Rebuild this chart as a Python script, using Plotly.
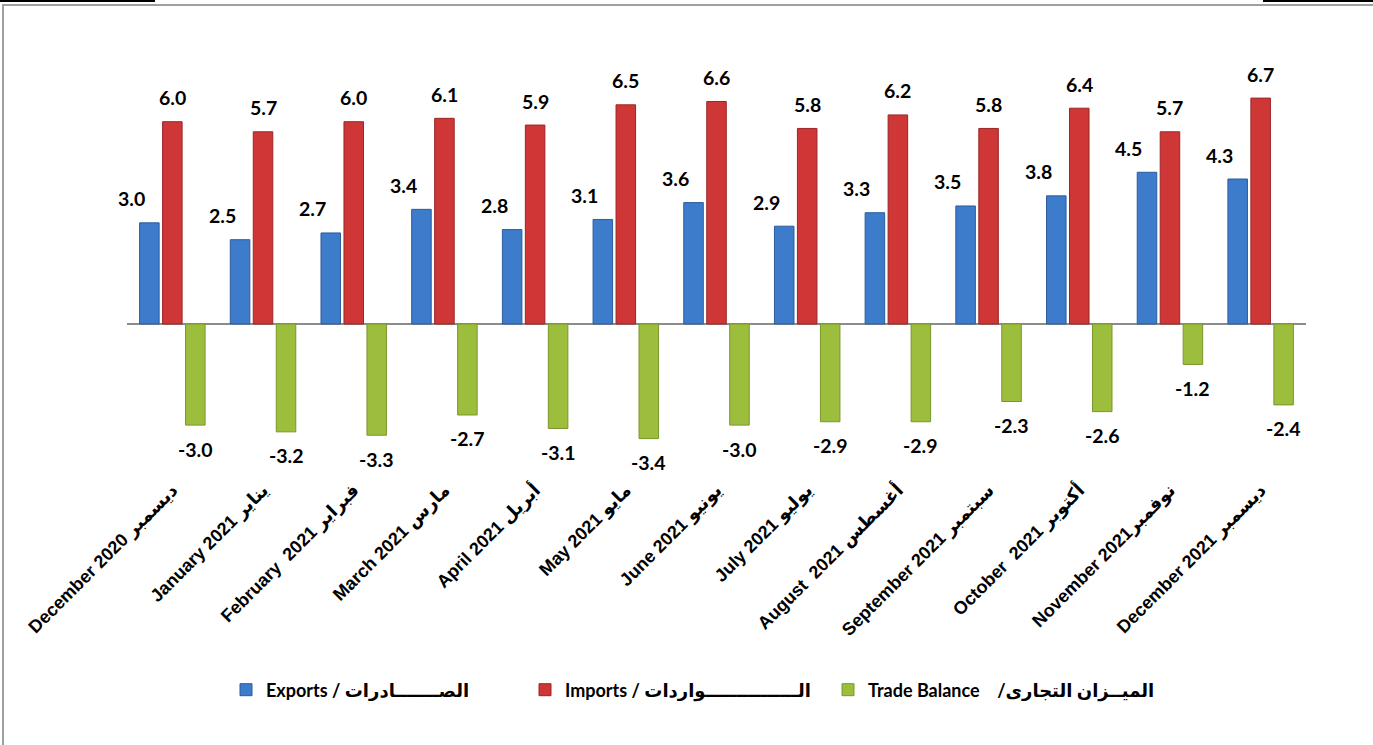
import plotly.graph_objects as go

categories = [
    "December 2020 ديسمبر",
    "January 2021 يناير",
    "February\u00a0\u00a02021 فبراير",
    "March 2021 مارس",
    "April 2021 أبريل",
    "May 2021 مايو",
    "June 2021 يونيو",
    "July 2021 يوليو",
    "August\u00a0\u00a02021 أغسطس",
    "September 2021 سبتمبر",
    "October\u00a0\u00a02021 أكتوبر",
    "November 2021نوفمبر",
    "December 2021 ديسمبر",
]
exports = [3.0, 2.5, 2.7, 3.4, 2.8, 3.1, 3.6, 2.9, 3.3, 3.5, 3.8, 4.5, 4.3]
imports = [6.0, 5.7, 6.0, 6.1, 5.9, 6.5, 6.6, 5.8, 6.2, 5.8, 6.4, 5.7, 6.7]
balance = [-3.0, -3.2, -3.3, -2.7, -3.1, -3.4, -3.0, -2.9, -2.9, -2.3, -2.6, -1.2, -2.4]

series_names = [
    "Exports / الصـــــــادرات",
    "Imports / الـــــــــــــــواردات",
    "Trade Balance" + "\u00a0" * 4 + "/الميــزان التجارى",
]

W, H = 1373, 745
ML, MR, MT, MB = 127, 67, 30, 270
PW = W - ML - MR
PH = H - MT - MB


def px_x(p):
    return (p - ML) / PW


def px_y(p):
    return (H - MB - p) / PH


fig = go.Figure()
fig.add_trace(go.Bar(x=categories, y=exports, name=series_names[0], legend="legend",
                     marker=dict(color="#3D7BCB", line=dict(color="#2B5C9C", width=1))))
fig.add_trace(go.Bar(x=categories, y=imports, name=series_names[1], legend="legend2",
                     marker=dict(color="#CF3636", line=dict(color="#9C2525", width=1))))
fig.add_trace(go.Bar(x=categories, y=balance, name=series_names[2], legend="legend3",
                     marker=dict(color="#9CBE3C", line=dict(color="#7A962C", width=1))))

label_font = dict(family="Lato, DejaVu Sans", size=19.5, color="#000000", weight="bold")
annotations = []
for series, xs in ((exports, -41), (imports, 0), (balance, 23)):
    for c, v in zip(categories, series):
        annotations.append(dict(
            x=c, y=v, xref="x", yref="y", text=f"{v:.1f}", showarrow=False,
            xshift=xs, yshift=24 if v >= 0 else -24, yanchor="middle",
            font=label_font,
        ))

shapes = [
    dict(type="rect", xref="paper", yref="paper",
         x0=px_x(3), x1=px_x(1376), y0=px_y(760), y1=px_y(5),
         line=dict(color="#A0A0A0", width=2), fillcolor="rgba(0,0,0,0)", layer="below"),
    dict(type="line", xref="paper", yref="paper",
         x0=px_x(0), x1=px_x(155), y0=px_y(1), y1=px_y(1),
         line=dict(color="#000000", width=2)),
    dict(type="line", xref="paper", yref="paper",
         x0=px_x(1263), x1=px_x(1375), y0=px_y(1), y1=px_y(1),
         line=dict(color="#000000", width=2)),
]

legend_font = dict(family="Lato, DejaVu Sans", size=18, color="#000000", weight="bold")


def leg(left_px):
    return dict(orientation="h", x=px_x(left_px), xanchor="left",
                y=px_y(690), yanchor="middle", font=legend_font,
                itemwidth=30, bgcolor="rgba(0,0,0,0)", borderwidth=0)


fig.update_layout(
    width=W, height=H,
    margin=dict(l=ML, r=MR, t=MT, b=MB, pad=0),
    paper_bgcolor="white", plot_bgcolor="white",
    barmode="group", bargap=0.24, bargroupgap=0.15,
    showlegend=True,
    legend=leg(226), legend2=leg(525), legend3=leg(828),
    xaxis=dict(type="category", range=[-0.5, 12.5], tickangle=-45,
               showline=False, showgrid=False, ticks="",
               tickfont=dict(family="Liberation Sans, DejaVu Sans", size=18,
                             color="#000000", weight="bold")),
    yaxis=dict(range=[-4.48, 8.72], showgrid=False, showticklabels=False,
               zeroline=True, zerolinecolor="#8C8C8C", zerolinewidth=1.5,
               showline=False, ticks=""),
    annotations=annotations,
    shapes=shapes,
)

fig.write_html("out.html", config={"displayModeBar": False},
               post_script="document.body.style.margin='0';")
